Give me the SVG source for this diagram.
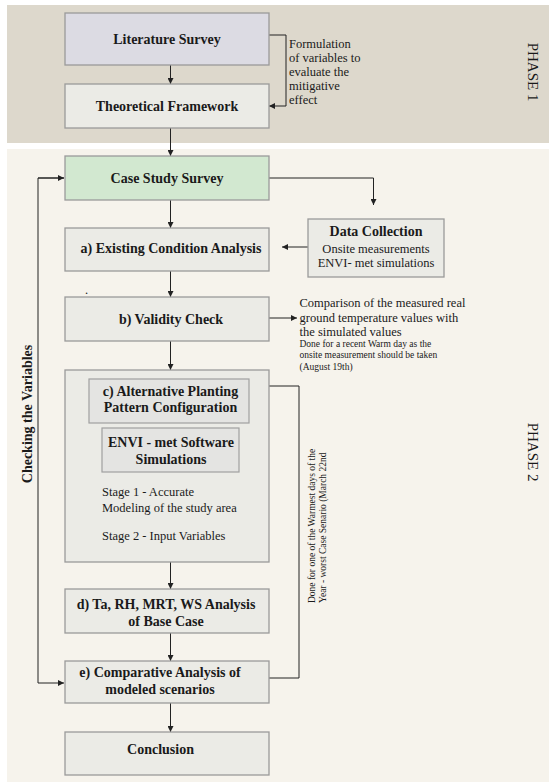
<svg xmlns="http://www.w3.org/2000/svg" width="549" height="782" viewBox="0 0 549 782">
<style>
  .box { fill: #ebebe6; stroke: #9a9a9a; stroke-width: 1.3; }
  .inner { fill: #e4e4e2; stroke: #a0a0a0; stroke-width: 1.2; }
  text { font-family: 'Liberation Serif', 'DejaVu Serif', serif; fill: #1a1a1a; }
  .lbl { font-weight: bold; font-size: 14px; text-anchor: middle; }
  .reg { font-size: 12.5px; }
  .sm { font-size: 9.5px; }
  .phase { font-size: 15px; text-anchor: middle; }
  .ln { fill: none; stroke: #222; stroke-width: 1; }
</style>
<defs>
  <marker id="ah" viewBox="0 0 10 10" refX="10" refY="5" markerWidth="6" markerHeight="6" markerUnits="userSpaceOnUse" orient="auto">
    <path d="M0,0 L10,5 L0,10 z" fill="#222"/>
  </marker>
</defs>

<g id="backgrounds">
  <rect x="7" y="5" width="542" height="138" fill="#ddd8cc"/>
  <rect x="7" y="149" width="542" height="633" fill="#f6f3ec"/>
  <text class="phase" transform="translate(528,72) rotate(90)">PHASE 1</text>
  <text class="phase" transform="translate(528,452) rotate(90)">PHASE 2</text>
</g>

<g id="connectors">
  <path class="ln" d="M170.5,65 V84" marker-end="url(#ah)"/>
  <path class="ln" d="M269,35 H286 V106 H269" marker-end="url(#ah)"/>
  <path class="ln" d="M170.5,128 V156" marker-end="url(#ah)"/>
  <path class="ln" d="M269,178 H373.5 V205" marker-end="url(#ah)"/>
  <path class="ln" d="M170.5,200 V228" marker-end="url(#ah)"/>
  <path class="ln" d="M308,247 H282" marker-end="url(#ah)"/>
  <path class="ln" d="M170.5,271 V297" marker-end="url(#ah)"/>
  <path class="ln" d="M269,318 H297" marker-end="url(#ah)"/>
  <path class="ln" d="M170.5,341 V370" marker-end="url(#ah)"/>
  <path class="ln" d="M269,386 H299 V678 H269"/>
  <path class="ln" d="M170.5,562 V589" marker-end="url(#ah)"/>
  <path class="ln" d="M170.5,633 V661" marker-end="url(#ah)"/>
  <path class="ln" d="M170.5,703 V732" marker-end="url(#ah)"/>
  <path class="ln" d="M64,178 H38 V683 H64" marker-end="url(#ah)"/>
  <path class="ln" d="M38,178 H64" marker-end="url(#ah)"/>
</g>

<g id="lit-survey">
  <rect x="65" y="13" width="204" height="52" fill="#dcdbe3" stroke="#9a9a9a" stroke-width="1.3"/>
  <text class="lbl" x="167" y="44">Literature Survey</text>
</g>

<g id="formulation-note">
  <text class="reg" x="289" y="48">Formulation</text>
  <text class="reg" x="289" y="62">of variables to</text>
  <text class="reg" x="289" y="76">evaluate the</text>
  <text class="reg" x="289" y="90">mitigative</text>
  <text class="reg" x="289" y="104">effect</text>
</g>

<g id="theoretical-framework">
  <rect class="box" x="65" y="84" width="204" height="44"/>
  <text class="lbl" x="167" y="111">Theoretical Framework</text>
</g>

<g id="case-study-survey">
  <rect x="65" y="156" width="204" height="44" fill="#d2e8d0" stroke="#9a9a9a" stroke-width="1.3"/>
  <text class="lbl" x="167" y="183">Case Study Survey</text>
</g>

<g id="data-collection">
  <rect class="box" x="308" y="219" width="136" height="58"/>
  <text class="lbl" x="376" y="235.5">Data Collection</text>
  <text class="reg" x="376" y="253" text-anchor="middle">Onsite measurements</text>
  <text class="reg" x="376" y="267" text-anchor="middle">ENVI- met simulations</text>
</g>

<g id="existing-condition">
  <rect class="box" x="65" y="228" width="204" height="43"/>
  <text class="lbl" x="171" y="253" font-size="14.5">a) Existing Condition Analysis</text>
</g>

<g id="stray-dot">
  <text class="reg" x="85" y="294">.</text>
</g>

<g id="validity-check">
  <rect class="box" x="65" y="297" width="204" height="44"/>
  <text class="lbl" x="171" y="324" font-size="14.5">b) Validity Check</text>
</g>

<g id="validity-note">
  <text class="reg" x="299.5" y="307">Comparison of the measured real</text>
  <text class="reg" x="299.5" y="321.5">ground temperature values with</text>
  <text class="reg" x="299.5" y="336">the simulated values</text>
  <text class="sm" x="299.5" y="346.5">Done for a recent Warm day as the</text>
  <text class="sm" x="299.5" y="358">onsite measurement should be taken</text>
  <text class="sm" x="299.5" y="369.5">(August 19th)</text>
</g>

<g id="alternative-planting">
  <rect class="box" x="65" y="370" width="204" height="192"/>
  <rect class="inner" x="89" y="379" width="160" height="44"/>
  <text class="lbl" x="170.5" y="396">c) Alternative Planting</text>
  <text class="lbl" x="170.5" y="412">Pattern Configuration</text>
  <rect class="inner" x="102" y="428" width="137" height="44"/>
  <text class="lbl" x="171" y="446.5">ENVI - met Software</text>
  <text class="lbl" x="171" y="464">Simulations</text>
  <text class="reg" x="102" y="496" font-size="14">Stage 1 - Accurate</text>
  <text class="reg" x="102" y="511.5" font-size="14">Modeling of the study area</text>
  <text class="reg" x="102" y="540" font-size="14">Stage 2 - Input Variables</text>
</g>

<g id="warmest-note">
  <text class="sm" font-size="10" transform="translate(314.5,603) rotate(-90)">Done for one of the Warmest days of the</text>
  <text class="sm" font-size="10" transform="translate(325.5,603) rotate(-90)">Year - worst Case Senario (March 22nd</text>
</g>

<g id="checking-variables">
  <text class="lbl" transform="translate(32,414) rotate(-90)">Checking the Variables</text>
</g>

<g id="base-case-analysis">
  <rect class="box" x="65" y="589" width="204" height="44"/>
  <text class="lbl" x="166" y="609">d) Ta, RH, MRT, WS Analysis</text>
  <text class="lbl" x="166" y="626">of Base Case</text>
</g>

<g id="comparative-analysis">
  <rect class="box" x="65" y="661" width="204" height="42"/>
  <text class="lbl" x="160" y="677">e) Comparative Analysis of</text>
  <text class="lbl" x="160" y="694">modeled scenarios</text>
</g>

<g id="conclusion">
  <rect class="box" x="65" y="732" width="204" height="43"/>
  <text class="lbl" x="160.5" y="754">Conclusion</text>
</g>
</svg>
